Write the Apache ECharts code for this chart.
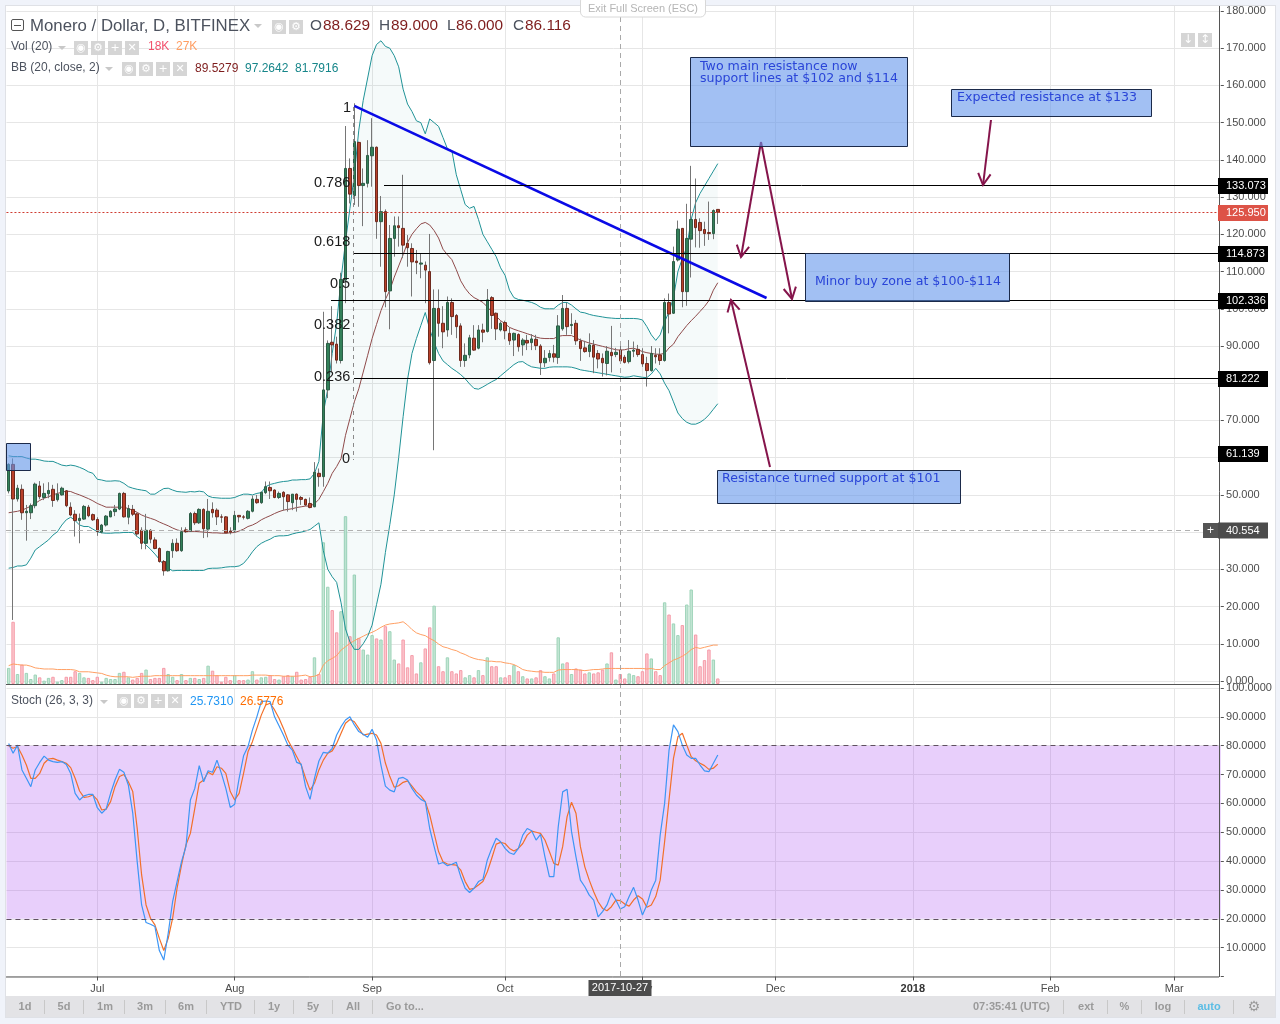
<!DOCTYPE html>
<html><head><meta charset="utf-8">
<style>
html,body{margin:0;padding:0;background:#f0f3fa;width:1280px;height:1024px;overflow:hidden}
#panel{position:absolute;left:5px;top:5px;width:1271px;height:1013px;background:#fff;border:1px solid #dfe1e6;box-sizing:border-box}
#bar{position:absolute;left:6px;top:996px;width:1269px;height:21px;background:#e3e3e6}
#main{position:absolute;left:0;top:0;width:1280px;height:1024px}
</style>
<script src="https://cdn.jsdelivr.net/npm/echarts@6/dist/echarts.min.js"></script>
</head><body><div id="panel"></div><div id="bar"></div><div id="main"></div>
<script>
// Daily candles, first one 2017-06-11
const opens=[51.05,58.2,48.9,51.5,45.2,45.2,47.1,52.4,49.3,50.3,
51.5,48.7,50,51.1,46.7,44.8,43.1,43.5,46.7,44.7,
43.4,40,41.9,44.1,45.5,46.2,50.4,44,46.1,44.9,
40.5,37,40.5,37.9,35.6,32.1,29.6,35,37,35,
40.6,40.3,45,42.5,46.1,40.8,46.1,45.9,44.1,44.1,
40.3,40.3,44.5,44.1,43.7,45.6,48.8,47.9,50.6,52,
51.3,49.3,50.7,50,47.9,50.2,49.3,48.8,47.7,46.8,
55.8,54.9,78.2,91,90.5,86.1,107.7,137.7,130.4,144.7,
133.1,133.7,141.1,143.4,123.4,126.1,104.8,118.9,122.3,121.6,
117.6,116.2,112.8,112,111.7,110,86.1,100.1,96.1,94.3,
101.7,98.2,95.4,86.1,87.6,92.1,89.4,94.3,93.9,103,
98.8,94.3,96.3,93.4,91.6,93.1,90.3,91.5,90.9,91.8,
90,85.5,86.9,87.9,86.9,94.6,100.1,95.5,96.1,91.3,
89.5,88.5,90.2,88,86.7,85.3,88.3,87.7,88.9,87,
85.8,88.6,89.1,87.7,85.3,83.4,87.5,87.6,86.1,101.7,
98.8,113.1,121.6,104.6,118.7,124,123.2,121.3,120.5,120.2,
126.7];
const closes=[58.2,48.9,51.8,45.2,45.6,47.1,52.9,49.5,50.4,51.2,
48.5,50.2,51.8,47.1,44.6,43.1,43.7,46.9,44.4,43.3,
40.2,41.9,44.3,45.6,46.2,50.4,44.1,46.3,44.8,39.5,
37,40.5,38.1,35.6,32.1,29.6,34.8,37,35,40.1,
40.1,45,42.5,46.1,40.9,45.6,45.2,44.1,44,39.8,
40,44.5,44.1,44,45.6,48.9,47.9,50.7,52.2,51.1,
49.3,50.4,49.5,48.2,50.2,48.8,48.8,47.3,46.6,56.1,
54.9,78.2,90.7,90.3,86.2,107.9,137.7,130.8,144.9,133.1,
133.7,141.2,143.4,123.4,126.1,104.6,118.9,122.3,121.8,117.1,
116.4,112.6,112.4,112.3,110.4,85.5,100.1,96.1,93.8,101.7,
97.9,95.2,86.1,87.5,92.2,88.9,94.3,93.7,102.4,98.2,
94.6,96.1,94.1,91.4,93.4,89.8,91.6,90.8,91.9,90.1,
85.5,86.7,88,87,95.4,100.1,95.2,95.8,91.4,89.3,
88.5,90.3,87,86.5,85.5,88.6,87.4,88.3,86,85.6,
88.6,88.9,87.7,85.2,83.4,88,87.1,86.1,101.7,98.6,
112.7,121.4,104.6,118.9,124,121.8,121,120.2,120.2,126.4,
125.95];
const highs=[58.5,59.8,52.7,52.8,47.3,47.7,53.3,53.7,53.1,53.4,
52.7,53.1,52.2,51.3,48,45.9,45,47.3,47.3,45,
44,42.2,44.6,45.9,47.3,50.6,50.8,47.3,47.3,45.2,
41.3,44.9,40.8,38.6,35.9,32.5,35,38.1,38.3,41.3,
41.3,45.4,45.5,46.4,46.4,48.9,48,46.4,44.8,44.3,
41.3,45.7,44.5,44.6,45.9,49.8,50,50.9,53.6,53.6,
51.5,50.9,51,50.2,50.2,50.4,49.7,49,49.3,58.8,
57.1,99.2,91.5,100.7,92.5,109.7,149.1,140.4,155.2,144.9,
137.7,145.3,151.2,143.6,130.3,126.7,122.5,124.8,124.8,136,
119.8,117.6,115.8,114.9,112.7,120.1,105.2,105.2,100.7,103.3,
102.8,98.6,96.1,90.7,93,95.6,95.6,96,105.3,103.4,
99,96.6,96.8,95,93.6,93.4,92.1,93,93.2,93,
90.5,88.9,88.9,90.3,98.3,103.7,101.6,98.8,97,92,
91.4,93.4,91.6,88.9,88,90,95.4,89.5,90.3,87.6,
91.6,91.2,90.3,89.4,87.1,90,89.4,89.4,102.8,104.1,
116.7,123.7,121.6,128.2,138.4,135,124.3,123.4,128.8,126.7,
126.7];
const lows=[50.4,16.4,48.2,43.3,37.7,43.5,46.4,48.8,48.6,49.1,
46.8,48.2,49.8,46.7,44.3,38.8,37,43.3,44,43,
39,39.7,41.5,44,44.3,45.9,43.9,42.1,44.3,38.8,
35.4,35.4,37,35.4,31.8,28.3,29.4,33.1,34.7,34.7,
39.8,40.1,41.9,42.2,38.4,38.6,43.9,41.9,42.5,39.7,
39.4,39.8,42.6,43.4,43.4,45.3,47.6,47.6,50.2,48.9,
49.1,48.9,45.8,45.5,45.9,45.5,47.3,47,46.4,46.7,
52.2,52.2,76,83,85.3,85.3,101.5,128.3,127.9,127.4,
122.2,132.6,132.8,118.8,111.3,100.4,94.5,114,116.7,113.6,
111.3,103.3,109.3,108.2,101.5,85,62,92.5,89.4,92.5,
93,92.1,84.4,84.4,86.7,88.7,89.1,91,93.6,94.6,
91.6,93.9,91.8,90.3,87.3,88.5,87.4,88.9,88.9,88.9,
82.2,84.3,85.8,85.6,85.2,94.1,93,93.2,90.3,86,
88.2,87,82.7,84,81.8,82.1,82.9,87,85.5,85.3,
85.3,87,87.1,84.4,79.1,83.1,85.3,84.9,85.8,93.4,
98.6,112.7,100.4,100.8,108.4,116.5,116.4,116.9,118.5,118.7,
122.8];
const volumes=[29,112,18,35,20,9,17,12,6,11,
13,4,7,13,13,23,20,12,11,7,
13,4,11,9,9,20,22,12,8,11,
20,26,9,11,11,29,18,13,7,18,
7,11,11,9,11,33,24,16,4,13,
7,16,7,7,8,23,8,12,13,16,
9,8,14,16,14,22,8,9,13,48,
18,255,175,133,93,131,302,86,197,83,
62,53,88,82,80,104,95,44,37,80,
30,52,19,39,64,102,141,32,23,48,
23,19,25,12,16,12,25,16,48,32,
32,12,12,16,34,23,14,10,10,12,
25,14,10,19,84,37,39,18,28,26,
19,21,19,21,26,37,57,8,18,10,
19,16,14,23,55,46,23,16,147,125,
109,88,106,143,170,89,32,43,62,44,
10];
const volumeMA=[33,36,35,34,34,32,29,28,27,27,
27,26,26,26,26,25,22,22,22,21,
20,19,16,14,13,13,13,13,12,13,
14,14,14,15,15,15,15,15,15,15,
15,15,15,15,15,15,15,15,15,15,
15,15,15,15,15,16,16,16,16,15,
15,15,14,14,14,14,15,16,13,14,
17,34,42,46,51,61,67,73,78,82,
86,90,93,97,102,106,108,109,110,112,
106,98,92,89,87,82,78,72,67,65,
62,60,56,53,49,46,44,43,41,41,
40,40,38,37,35,31,26,24,23,22,
22,21,21,21,25,26,26,26,26,25,
24,25,26,26,27,28,28,28,28,28,
28,28,28,28,27,28,26,26,33,38,
43,46,50,55,62,66,64,66,68,70,
70];
const bbUpper=[60.5,60.3,60.3,60.3,59.9,59.6,59.6,59.4,59.1,59,
59,58.5,58,57.8,58,57.8,57.4,56.9,56.2,55.8,
54.2,54,53.7,53.7,53.8,53.7,53.1,52.2,51.8,51.5,
51.3,51.1,50.2,50.2,51,51.7,51.8,51.3,50.9,50.8,
50.7,50.9,50.8,51,50.8,49.7,49.3,49.2,49.1,49.1,
49.1,49.3,49.8,50.2,50.2,50,50.4,50.6,52.2,52.8,
53.1,53.4,53.6,53.7,54,54,54.1,54.1,54.3,55.8,
59,72,78.5,88,96,108,118,127,136,148,
156,162,168,171,172,170.5,170,168,165,159,
155,153,150.5,150,147,151,150,149,146,143,
142.5,136,132,128,127,127.5,124,120,118,116,
114,111,109,105,103,102.5,102.3,102,101.7,101.2,
100.4,100,100,100,101,101.7,101.7,101,100,99.1,
98.9,98.5,98.2,98,97.8,97.6,97.5,97.4,97.4,97.4,
97.4,97.4,97.3,97,95.2,93,91.5,93,96.5,99.2,
103,110,113.5,116.5,124,128.5,131,133,135,137,
139];
const bbLower=[30.3,30.5,30.9,30.9,31.2,33,35.2,36.1,37,37.9,
39.2,40.1,41.9,43.3,44,43.1,41.9,41.5,41.5,40.8,
40.1,39.8,39.7,39.7,39.8,39.8,39.9,39.9,39.9,38.8,
37.9,36.5,35.4,34.1,32.7,31.2,30.3,29.6,29.7,29.7,
29.7,29.7,29.7,29.7,29.7,30.2,30.3,30.3,30.4,30.6,
30.7,30.7,30.9,31.6,33,34.7,36.1,37,37.6,38.1,
38.8,39,39,39.1,39.5,39.8,40,40.3,40.7,41.6,
42.5,35,30,28,26.5,21,14,10.5,8.5,8.5,
10,12,15,20.5,26,34.5,42,50,60,71,
81,88,92,95.5,99,94.5,91,88,86,85,
84,83.2,82.3,81.2,79.8,78.6,78.4,79,79.7,80.4,
81,82,83,84,85,85.7,85.8,85,84.4,84.2,
84,84,84.3,84.4,84.4,84.4,84.4,84.3,84,83.6,
83.4,83.2,83,82.8,82.6,82.4,82.2,82,81.8,81.6,
81.7,82,81.8,81.6,81.5,82.5,84,82.5,80,78,
75,72,70.5,69.5,69,69,69.5,70.3,71.5,73,
74.5];
const bbBasis=[45.2,45.4,45.6,45.9,46.4,47,47.7,48.5,49.1,49.5,
50,50.4,50.7,51,50.9,50.4,50,49.5,49,48.4,
47.7,47.2,46.7,46.7,46.7,46.7,46.7,46.3,45.9,45.3,
44.6,44.1,43.7,43.3,42.7,42.2,41.7,41.1,40.6,40.3,
40.2,40.2,40.2,40.1,40,39.9,39.8,39.8,39.7,39.7,
39.8,39.9,40.3,40.8,41.5,41.9,42.5,43.3,43.9,44.4,
45,45.5,45.9,46.1,46.3,46.6,46.8,47,47,47.6,
48.8,50.9,53.1,55.8,57.6,59.8,66,70.5,75,78.5,
83,87.5,92,95.8,99.5,102.5,105,108.5,111.5,114.5,
117.8,120,121.5,122.8,123.2,122.5,121,119,116,114.5,
113.2,110.5,107.5,105.5,104,103,102.4,101.7,100.5,99.2,
98,96.8,96,95,94.5,94.1,93.7,93.3,92.9,92.4,
92.1,92,92,92,92.6,92.8,92.8,92.8,92.2,91.6,
91.2,90.8,90.5,90.2,89.9,89.6,89.3,89,88.9,89,
89.3,89.4,89,88.5,88.2,88,87.8,87.8,88,89.5,
90.5,92.5,94,95.5,96.8,98,99.3,100.6,102.2,105,
107];
const stochK=[80.8,77.4,80.2,71.6,68.7,65.8,71.6,74.2,76.4,75,
74.5,74.2,74.5,73.5,70.4,63.5,61.2,62.6,63.1,63.1,
58.5,56.6,58.1,63.5,68.1,71.8,70.8,66.4,56.6,39.8,
24.8,18.7,18.1,17.3,9,5.7,15,26,32.9,39.8,
45,61.2,65.2,73.1,67.5,71.3,70.8,75,70.4,65.2,
58.6,59.7,68.7,76.5,79.7,85.4,90,95.3,95.5,95.3,
90,86.9,83.7,80.2,78.5,74.2,73.6,65.8,61.4,68.7,
74.7,77.7,77.4,79.1,83.7,86.6,88.9,90,87.2,84.9,
84,82.9,85.7,82,73.3,66,64.6,64,68.7,69,
68.1,65.2,62.9,61.4,60.6,51.3,45,39,39.5,38.4,
38.9,39.6,34.6,30.6,29.1,30.6,32.9,33.7,40.4,44.4,
47.9,46.7,44.4,42.9,42.3,44.4,49,51.3,50.5,47.3,
49.3,41.5,34.6,34.6,51.9,64,64.9,50.2,41.5,33.4,
31.1,28.2,26.5,20.7,22.5,24.8,29,26.5,23.4,24.2,
27.7,30.9,26.5,21.3,24.8,30,33.4,49,60,78.5,
87.2,84.9,80.2,76.8,75.6,75.6,73.3,71.3,71,73.9,
76.8];
const stochD=[79.9,79.1,79.7,76.8,73.3,68.7,68.7,70.4,73.9,75.4,
75.6,75,74.5,73.9,72.4,68.7,64.3,62.1,62.3,62.9,
61.2,57.7,58,60.6,65.8,69.3,70,67.5,64.1,51.4,
35.2,24.8,20.2,17.9,13.2,9,13.2,20.2,30.6,38.6,
45.6,49.6,58.3,67,68.1,70.8,69.9,72.7,72.2,70.4,
64.1,61.2,63.5,70.4,77.9,81.4,86,90.6,94.1,94.7,
92.4,89.5,86,82,79.1,76.2,73.3,68.7,64.6,67,
71.6,75,77.4,78.2,80.8,84.3,87.8,89.1,88.3,86,
83.7,84,84.3,83.7,80.8,74,69.3,65.6,66.1,67.3,
67.8,66,64,62.6,60.6,56,49.6,43.3,39.8,39,
38.8,38.6,36.9,32.9,30.2,30.6,31.7,32.9,36.3,41,
45.9,46.5,46.1,44.4,43.5,44.4,46.1,49,50.4,50,
49.6,47.3,43.3,39.2,38.6,45,55.4,60.4,56.6,45,
38,33.4,29.4,25.9,23.6,22.8,24.2,26.5,26.3,25.1,
24.4,26.5,28,26.9,24,24.8,27.7,33.4,46.7,61.2,
75.6,83.1,84.3,80.2,76.2,74.8,73.9,73.1,71.8,72.2,
73.6];
const monthTicks={'2017-07-01':'Jul','2017-08-01':'Aug','2017-09-01':'Sep','2017-10-01':'Oct','2017-11-01':'Nov','2017-12-01':'Dec','2018-01-01':'2018','2018-02-01':'Feb','2018-03-01':'Mar'};
const fibLevels=[133.073,114.873,102.336,81.222];
const fibStartX=[384,354,331,354];
const trendStart=[78,154.5], trendEnd=[171,102.9];
const lastClose=125.95;

const categories=[];
{let d=Date.UTC(2017,5,11);for(let i=0;i<274;i++){categories.push(new Date(d).toISOString().slice(0,10));d+=864e5;}}
const isTick=(idx,val)=>val in monthTicks;
const up=i=>closes[i]>=opens[i];
const wicks=opens.map((o,i)=>[o,closes[i],lows[i],highs[i]]);
const bodies=opens.map((o,i)=>[o,closes[i],Math.min(o,closes[i]),Math.max(o,closes[i])]);
const AX='"Liberation Sans",Arial,sans-serif';
const gridColor='#e6e6e6';

const chart=echarts.init(document.getElementById('main'),null,{renderer:'canvas'});
chart.setOption({
 animation:false,backgroundColor:'transparent',
 grid:[{left:6.44,top:11,width:1214.4,height:670},{left:6.44,top:6,width:1214.4,height:678},{left:6.44,top:688,width:1214.4,height:288.5}],
 xAxis:[
  {gridIndex:0,type:'category',data:categories,axisLine:{show:false},axisTick:{show:false},axisLabel:{show:false},splitLine:{show:false}},
  {gridIndex:1,type:'category',data:categories,axisLine:{show:false},axisTick:{show:false},axisLabel:{show:false},
   splitLine:{show:true,alignWithLabel:true,interval:isTick,lineStyle:{color:gridColor,width:1}}},
  {gridIndex:2,type:'category',data:categories,axisLine:{show:false,onZero:false},
   axisTick:{show:true,alignWithLabel:true,interval:isTick,length:4,lineStyle:{color:'#555'}},
   axisLabel:{show:true,interval:isTick,margin:7,color:'#4c4c4c',fontFamily:AX,fontSize:11,
     formatter:v=>monthTicks[v]==='2018'?'{b|2018}':(monthTicks[v]||''),rich:{b:{fontWeight:'bold',color:'#333',fontFamily:AX,fontSize:11}}},
   splitLine:{show:true,alignWithLabel:true,interval:isTick,lineStyle:{color:gridColor,width:1}}}
 ],
 yAxis:[
  {gridIndex:0,type:'value',position:'right',min:0,max:180,interval:10,axisLine:{show:false},
   axisTick:{show:true,length:3,lineStyle:{color:'#555'}},axisLabel:{margin:5.2,padding:[4,0,0,0],color:'#4c4c4c',fontFamily:AX,fontSize:11,formatter:v=>v.toFixed(3)},
   splitLine:{show:true,lineStyle:{color:gridColor,width:1}}},
  {gridIndex:1,type:'value',min:0,max:1220,show:false,splitLine:{show:false}},
  {gridIndex:2,type:'value',position:'right',min:0,max:100,interval:10,axisLine:{show:false},
   axisTick:{show:true,length:3,lineStyle:{color:'#555'}},axisLabel:{margin:5.2,padding:[4,0,0,0],color:'#4c4c4c',fontFamily:AX,fontSize:11,formatter:v=>v===0?'':v.toFixed(4)},
   splitLine:{show:true,lineStyle:{color:gridColor,width:1}}}
 ],
 series:[
  {name:'Vol',type:'bar',xAxisIndex:1,yAxisIndex:1,barWidth:3.4,z:2,
   data:volumes.map((v,i)=>({value:v,itemStyle:up(i)?{color:'#c5e6d5',borderColor:'#9ed4b9',borderWidth:1}:{color:'#fcc7ce',borderColor:'#f59ca9',borderWidth:1}}))},
  {name:'VolMA',type:'line',xAxisIndex:1,yAxisIndex:1,data:volumeMA,showSymbol:false,z:3,lineStyle:{color:'#ff9f63',width:1}},
  {name:'BBL',type:'line',stack:'bb',xAxisIndex:0,yAxisIndex:0,data:bbLower,showSymbol:false,z:3,lineStyle:{color:'#1f9296',width:1}},
  {name:'BBU',type:'line',stack:'bb',xAxisIndex:0,yAxisIndex:0,data:bbUpper.map((u,i)=>u-bbLower[i]),showSymbol:false,z:3,
   lineStyle:{color:'#1f9296',width:1},areaStyle:{color:'rgba(0,130,120,0.055)'}},
  {name:'Basis',type:'line',xAxisIndex:0,yAxisIndex:0,data:bbBasis,showSymbol:false,z:4,lineStyle:{color:'#8e4a4a',width:1}},
  {name:'Wick',type:'candlestick',xAxisIndex:0,yAxisIndex:0,data:wicks,barWidth:1,z:5,
   itemStyle:{color:'#767676',color0:'#767676',borderColor:'#767676',borderColor0:'#767676',borderWidth:1}},
  {name:'Body',type:'candlestick',xAxisIndex:0,yAxisIndex:0,data:bodies,barWidth:3,z:6,
   itemStyle:{color:'#338059',color0:'#b9402a',borderColor:'#2c5c46',borderColor0:'#6e2a1e',borderWidth:1},
   markLine:{silent:true,symbol:'none',label:{show:false},z:7,data:[
     {yAxis:lastClose,lineStyle:{color:'#cf3b30',type:[2,2],width:1}},
     [{coord:[categories[trendStart[0]],trendStart[1]],lineStyle:{color:'#0a0ae6',width:2.6,type:'solid'}},{coord:[categories[trendEnd[0]],trendEnd[1]]}]
   ]}},
  {name:'%K',type:'line',xAxisIndex:2,yAxisIndex:2,data:stochK,showSymbol:false,z:4,lineStyle:{color:'#3d96f5',width:1.2},
   markArea:{silent:true,itemStyle:{color:'rgba(163,63,239,0.25)'},data:[[{yAxis:80},{yAxis:20}]]},
   markLine:{silent:true,symbol:'none',label:{show:false},lineStyle:{color:'#5f5060',type:[5,4],width:1},data:[{yAxis:80},{yAxis:20}]}},
  {name:'%D',type:'line',xAxisIndex:2,yAxisIndex:2,data:stochD,showSymbol:false,z:3,lineStyle:{color:'#f2702a',width:1.2}}
 ]
});

// annotations and chrome
const Z=50;
const G=[];
const T=(x,y,text,font,fill,align)=>G.push({type:'text',z:Z+3,silent:true,style:{x,y:y+2,text,font,fill,textAlign:align||'left',textVerticalAlign:'middle'}});
const R=(x,y,w,h,fill,stroke,lw,z)=>G.push({type:'rect',z:z||Z,silent:true,shape:{x,y,width:w,height:h},style:{fill,stroke:stroke||null,lineWidth:lw||0}});
const L=(x1,y1,x2,y2,stroke,lw,dash,z)=>G.push({type:'line',z:z||Z,silent:true,shape:{x1,y1,x2,y2},style:{stroke,lineWidth:lw||1,lineDash:dash||null}});
const priceY=v=>chart.convertToPixel({yAxisIndex:0},v);

// right and pane edges
L(1219.5,6,1219.5,977,'#555',1);
L(6,684.5,1219,684.5,'#555',1);
L(6,977,1219,977,'#555',1);

// crosshair
L(620.5,17,620.5,977,'#a9a9a9',1,[5,4],Z-2);
L(6,530.5,1203,530.5,'#b0b0b0',1,[5,4],Z-2);

// fib
fibLevels.forEach((v,i)=>{const y=Math.floor(priceY(v))+0.5;L(fibStartX[i],y,1219,y,'#000',1,null,Z-1);});
L(353.5,107,353.5,460,'#8a8a8a',1,[4,4],Z-2);
const fibFont='14.5px '+AX;
[[343,106,'1'],[314,181,'0.786'],[314,240,'0.618'],[330,282,'0.5'],[314,323,'0.382'],[314,375,'0.236'],[342,457,'0']].forEach(a=>T(a[0],a[1],a[2],fibFont,'#1a1a1a'));

// arrows
const arrow=(x1,y1,x2,y2)=>{const c='#85144b';L(x1,y1,x2,y2,c,2);const a=Math.atan2(y2-y1,x2-x1),s=13,b=0.5;
 G.push({type:'polyline',z:Z,silent:true,shape:{points:[[x2-s*Math.cos(a-b),y2-s*Math.sin(a-b)],[x2,y2],[x2-s*Math.cos(a+b),y2-s*Math.sin(a+b)]]},style:{stroke:c,lineWidth:2,fill:null}});};
arrow(761,142,741,257);arrow(761,142,792,299);arrow(770,467,731,300);arrow(991,120,983,185);

// note boxes
const boxFill='rgba(100,150,235,0.6)',boxStroke='#1b2a4a',boxFont='12.6px "DejaVu Sans",Verdana,sans-serif',boxText='#2a45d8';
R(690.5,57.5,217,89,boxFill,boxStroke,1);
T(700,65,'Two main resistance now',boxFont,boxText);T(700,77,'support lines at $102 and $114',boxFont,boxText);
R(951.5,89.5,200,27,boxFill,boxStroke,1);T(957,96,'Expected resistance at $133',boxFont,boxText);
R(805.5,253.5,204,48,boxFill,boxStroke,1);T(815,280,'Minor buy zone at $100-$114',boxFont,boxText);
R(717.5,470.5,243,33,boxFill,boxStroke,1);T(722,477,'Resistance turned support at $101',boxFont,boxText);
R(6.5,443.5,24,27,boxFill,boxStroke,1);

// price tags
const tagFont='11px '+AX;
const tag=(v,txt,fill)=>{const y=Math.floor(priceY(v));R(1218,y-7,50,16,fill,null,0,Z+1);T(1226,y-1,txt,tagFont,'#fff');};
tag(133.073,'133.073','#000');
tag(lastClose,'125.950','#dd5347');
tag(114.873,'114.873','#000');
tag(102.336,'102.336','#000');
tag(81.222,'81.222','#000');
tag(61.139,'61.139','#000');
R(1218,522.5,50,16,'#4c4c4c',null,0,Z+1);T(1226,529,'40.554',tagFont,'#fff');
R(1203,523,15,15,'#555',null,0,Z+1);T(1210.5,529,'+','12px '+AX,'#fff','center');

// date tag
R(588.5,980,63,16,'#4c4c4c',null,0,Z+1);T(620,986,'2017-10-27',tagFont,'#fff','center');

// top pill
G.push({type:'rect',z:Z+1,silent:true,shape:{x:580.5,y:-4,width:125,height:21,r:5},style:{fill:'#fff',stroke:'#d8d8d8',lineWidth:1}});
T(643,7,'Exit Full Screen (ESC)','11px '+AX,'#b5b5b5','center');

// legends
const icon=(x,y,g,s)=>{R(x,y,14,14,'#d5d5d5',null,0,Z+1);T(x+7,y+5,g,(s||11)+'px "DejaVu Sans"','#fff','center');};
const caret=(x,y)=>G.push({type:'polygon',z:Z+1,silent:true,shape:{points:[[x,y],[x+8,y],[x+4,y+4]]},style:{fill:'#c8c8c8'}});
G.push({type:'rect',z:Z+1,silent:true,shape:{x:11.5,y:19.5,width:12,height:11,r:1.5},style:{fill:'#fff',stroke:'#555',lineWidth:1}});
L(14,25.5,21,25.5,'#555',1,null,Z+2);
const txt='#4c525e';
T(30,24,'Monero / Dollar, D, BITFINEX','16.8px "Liberation Sans",Arial,sans-serif',txt);
caret(254,24);
icon(272,20,'◉');icon(289,20,'⚙');
const ohlcF='15.4px '+AX,ohlcV='#7e1c1c';
[[310,'O',323,'88.629'],[379,'H',391,'89.000'],[447,'L',456,'86.000'],[513,'C',525,'86.116']].forEach(a=>{T(a[0],24,a[1],ohlcF,txt);T(a[2],24,a[3],ohlcF,ohlcV);});
const numF='12px "Liberation Sans",Arial,sans-serif';
T(11,45,'Vol (20)',numF,txt);caret(58,46);
[74,91,108,125].forEach((x,i)=>icon(x,41,['◉','⚙','+','✕'][i]));
T(148,45,'18K',numF,'#f2506c');T(176,45,'27K',numF,'#ff9e63');
T(11,66,'BB (20, close, 2)',numF,txt);caret(105,67);
[122,139,156,173].forEach((x,i)=>icon(x,62,['◉','⚙','+','✕'][i]));
T(195,67,'89.5279',numF,'#7e1c1c');T(245,67,'97.2642',numF,'#17868a');T(295,67,'81.7916',numF,'#17868a');
T(11,699,'Stoch (26, 3, 3)',numF,txt);caret(100,700);
[117,134,151,168].forEach((x,i)=>icon(x,694,['◉','⚙','+','✕'][i]));
T(190,700,'25.7310',numF,'#2196f3');T(240,700,'26.5776',numF,'#ff6d00');
icon(1181,33,'↓',12);icon(1198,33,'↕',12);

// toolbar
const tbF='bold 11px '+AX,tbC='#9a9a9a';
[['1d',25],['5d',64],['1m',105],['3m',145],['6m',186],['YTD',231],['1y',274],['5y',313],['All',353]].forEach(a=>T(a[1],1005,a[0],tbF,tbC,'center'));
T(386,1005,'Go to...',tbF,tbC);
[44.5,83.5,124.5,165.5,206.5,254.5,293.5,332.5,372.5,1063.5,1107.5,1141.5,1184.5,1233.5].forEach(x=>L(x,1000,x,1014,'#c8c8c8',1,null,Z+1));
T(1050,1005,'07:35:41 (UTC)',tbF,tbC,'right');
T(1086,1005,'ext',tbF,tbC,'center');T(1124.5,1005,'%',tbF,tbC,'center');T(1163,1005,'log',tbF,tbC,'center');
T(1209,1005,'auto',tbF,'#5bbde5','center');T(1254,1005,'⚙','14px "DejaVu Sans"',tbC,'center');

chart.setOption({graphic:{elements:G}});
</script></body></html>
